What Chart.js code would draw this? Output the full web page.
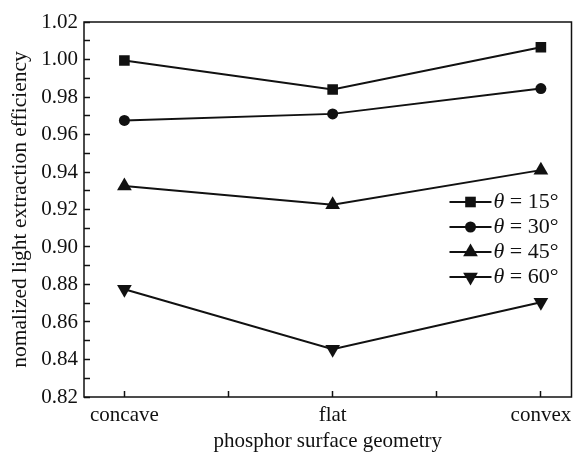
<!DOCTYPE html>
<html>
<head>
<meta charset="utf-8">
<script src="https://cdn.jsdelivr.net/npm/chart.js@4.4.0/dist/chart.umd.min.js"></script>
<style>
  html, body { margin: 0; padding: 0; background: #fff; }
  #wrap { width: 580px; height: 454px; }
</style>
</head>
<body>
<div id="wrap"><canvas id="chart"></canvas></div>
<script>
// data
const categories = ['concave', 'flat', 'convex'];
const angles = ['15°', '30°', '45°', '60°'];
const theta15 = [0.9995, 0.984, 1.0065];
const theta30 = [0.9675, 0.971, 0.9845];
const theta45 = [0.9325, 0.9225, 0.941];
const theta60 = [0.8775, 0.8455, 0.8705];
const yTickLabels = ['0.82', '0.84', '0.86', '0.88', '0.90', '0.92', '0.94', '0.96', '0.98', '1.00', '1.02'];

const ink = '#111';
const serif = '"Liberation Serif", "Times New Roman", serif';

function toPoints(vals) {
    return vals.map(function(v, i) { return { x: i, y: v }; });
}

const markers = [
    { style: 'rect', radius: 7.5, rotation: 0 },
    { style: 'circle', radius: 5.5, rotation: 0 },
    { style: 'triangle', radius: 8.5, rotation: 0 },
    { style: 'triangle', radius: 8.5, rotation: 180 }
];

const datasets = [theta15, theta30, theta45, theta60].map(function(vals, k) {
    return {
        label: angles[k],
        data: toPoints(vals),
        borderColor: ink,
        backgroundColor: ink,
        borderWidth: 2,
        pointStyle: markers[k].style,
        pointRadius: markers[k].radius,
        pointRotation: markers[k].rotation,
        pointBorderWidth: 0,
        pointBackgroundColor: ink,
        tension: 0
    };
});

// frame around the plot area
const framePlugin = {
    id: 'frame',
    afterDraw(chart) {
        const a = chart.chartArea;
        const ctx = chart.ctx;
        ctx.save();
        ctx.strokeStyle = ink;
        ctx.lineWidth = 1.5;
        ctx.strokeRect(a.left, a.top, a.right - a.left, a.bottom - a.top);
        ctx.restore();
    }
};

// legend: line + marker, italic theta
const legendPlugin = {
    id: 'thetaLegend',
    afterDraw(chart) {
        const a = chart.chartArea;
        const ctx = chart.ctx;
        const x0 = a.right - 122;
        const x1 = a.right - 80;
        const top = a.top + 180;
        const gap = 25;
        ctx.save();
        chart.data.datasets.forEach(function(ds, i) {
            const y = top + i * gap;
            ctx.strokeStyle = ink;
            ctx.lineWidth = 2;
            ctx.beginPath();
            ctx.moveTo(x0, y);
            ctx.lineTo(x1, y);
            ctx.stroke();
            ctx.fillStyle = ink;
            Chart.helpers.drawPoint(ctx, {
                pointStyle: ds.pointStyle,
                radius: ds.pointRadius,
                rotation: ds.pointRotation,
                borderWidth: 0
            }, (x0 + x1) / 2, y);
            ctx.textBaseline = 'middle';
            ctx.textAlign = 'left';
            ctx.font = 'italic 22px ' + serif;
            ctx.fillText('θ', x1 + 2, y);
            const w = ctx.measureText('θ').width;
            ctx.font = '22px ' + serif;
            ctx.fillText(' = ' + ds.label, x1 + 2 + w, y);
        });
        ctx.restore();
    }
};

new Chart(document.getElementById('chart').getContext('2d'), {
    type: 'line',
    data: { datasets: datasets },
    options: {
        responsive: true,
        maintainAspectRatio: false,
        animation: false,
        layout: { padding: { top: 22, right: 1, left: 0, bottom: 0 } },
        scales: {
            x: {
                type: 'linear',
                min: -0.194,
                max: 2.147,
                afterBuildTicks: function(scale) {
                    scale.ticks = [0, 0.5, 1, 1.5, 2].map(function(v) { return { value: v }; });
                },
                afterFit: function(scale) {
                    scale.height = 57;
                    scale.paddingLeft = 0;
                    scale.paddingRight = 0;
                },
                border: { display: false },
                grid: {
                    drawOnChartArea: false,
                    tickLength: -6,
                    tickColor: ink,
                    tickWidth: 1.5
                },
                ticks: {
                    color: ink,
                    font: { family: serif, size: 21 },
                    padding: 12,
                    maxRotation: 0,
                    autoSkip: false,
                    callback: function(v) {
                        return Number.isInteger(v) ? categories[v] : '';
                    }
                },
                title: {
                    display: true,
                    text: 'phosphor surface geometry',
                    color: ink,
                    font: { family: serif, size: 21 },
                    padding: { top: 0, bottom: 0 }
                }
            },
            y: {
                min: 0.82,
                max: 1.02,
                afterBuildTicks: function(scale) {
                    const t = [];
                    for (let i = 0; i <= 20; i++) t.push({ value: Math.round((0.82 + i * 0.01) * 100) / 100 });
                    scale.ticks = t;
                },
                afterFit: function(scale) {
                    scale.width = 84;
                    scale.paddingTop = 0;
                    scale.paddingBottom = 0;
                },
                border: { display: false },
                grid: {
                    drawOnChartArea: false,
                    tickLength: -6,
                    tickColor: ink,
                    tickWidth: 1.5
                },
                ticks: {
                    color: ink,
                    font: { family: serif, size: 21 },
                    padding: 12,
                    autoSkip: false,
                    callback: function(v, i) {
                        return i % 2 === 0 ? yTickLabels[i / 2] : '';
                    }
                },
                title: {
                    display: true,
                    text: 'nomalized light extraction efficiency',
                    color: ink,
                    font: { family: serif, size: 21.5 },
                    padding: { top: 7, bottom: 0 }
                }
            }
        },
        plugins: {
            legend: { display: false },
            tooltip: { enabled: false }
        }
    },
    plugins: [framePlugin, legendPlugin]
});
</script>
</body>
</html>
